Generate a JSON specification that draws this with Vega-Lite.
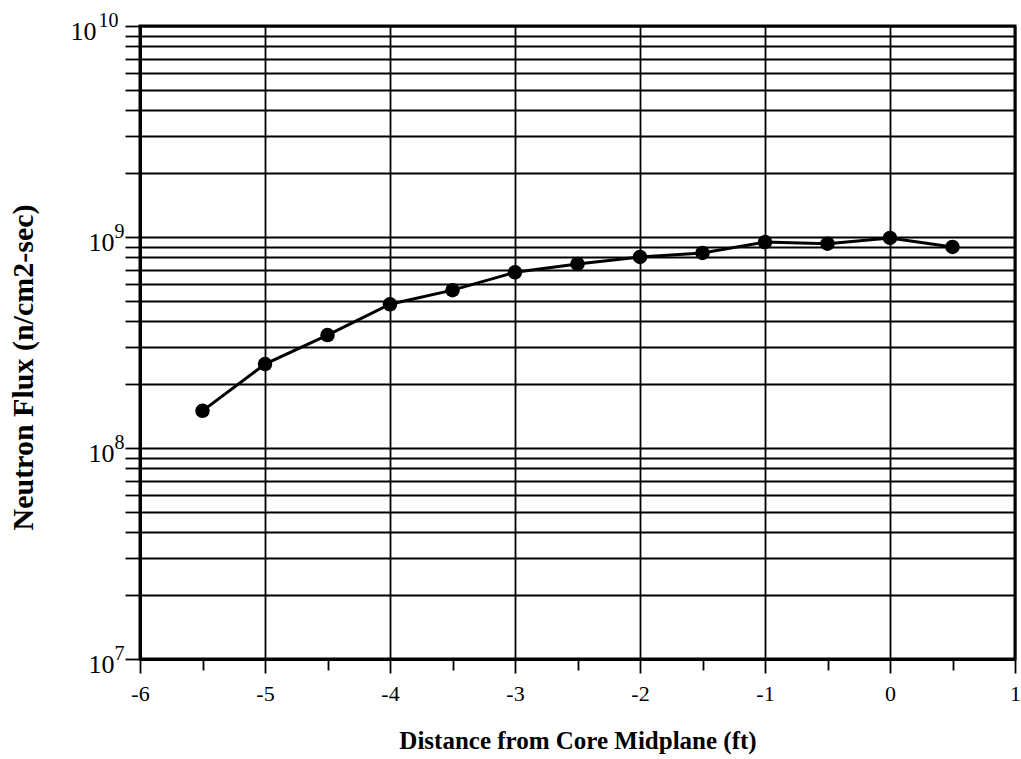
{
  "$schema": "https://vega.github.io/schema/vega-lite/v6.json",
  "autosize": "none",
  "width": 875,
  "height": 633,
  "padding": {"left": 140, "top": 26, "right": 6, "bottom": 100},
  "background": "white",
  "config": {
    "view": {"stroke": "black", "strokeWidth": 3},
    "font": "Liberation Serif"
  },
  "data": {
    "values": [
      {"x": -5.5, "flux": 1.5e8},
      {"x": -5.0, "flux": 2.5e8},
      {"x": -4.5, "flux": 3.43e8},
      {"x": -4.0, "flux": 4.8e8},
      {"x": -3.5, "flux": 5.6e8},
      {"x": -3.0, "flux": 6.8e8},
      {"x": -2.5, "flux": 7.45e8},
      {"x": -2.0, "flux": 8.04e8},
      {"x": -1.5, "flux": 8.4e8},
      {"x": -1.0, "flux": 9.46e8},
      {"x": -0.5, "flux": 9.3e8},
      {"x": 0.0, "flux": 9.9e8},
      {"x": 0.5, "flux": 8.97e8}
    ]
  },
  "encoding": {
    "x": {
      "field": "x",
      "type": "quantitative",
      "scale": {"domain": [-6, 1], "nice": false, "zero": false},
      "axis": {
        "title": "Distance from Core Midplane (ft)",
        "titleFont": "Liberation Serif",
        "titleFontSize": 25,
        "titleFontWeight": "bold",
        "titleColor": "black",
        "titlePadding": 24,
        "values": [-6, -5.5, -5, -4.5, -4, -3.5, -3, -2.5, -2, -1.5, -1, -0.5, 0, 0.5, 1],
        "labelExpr": "datum.value % 1 === 0 ? toString(datum.value) : ''",
        "labelFont": "Liberation Serif",
        "labelFontSize": 22,
        "labelColor": "black",
        "labelPadding": 10,
        "labelFlush": false,
        "labelOverlap": false,
        "domainColor": "black",
        "domainWidth": 3,
        "tickColor": "black",
        "tickWidth": 1.8,
        "tickSize": {"condition": {"test": "datum.value % 1 === 0", "value": 14}, "value": 11},
        "grid": true,
        "gridColor": "black",
        "gridWidth": 1.8,
        "gridOpacity": {"condition": {"test": "datum.value % 1 === 0", "value": 1}, "value": 0}
      }
    },
    "y": {
      "field": "flux",
      "type": "quantitative",
      "scale": {"type": "log", "domain": [10000000, 10000000000], "nice": false}
    }
  },
  "layer": [
    {
      "mark": {"type": "line", "color": "black", "strokeWidth": 3},
      "encoding": {
        "y": {
          "field": "flux",
          "type": "quantitative",
          "scale": {"type": "log", "domain": [10000000, 10000000000], "nice": false},
          "axis": {
            "title": "Neutron Flux (n/cm2-sec)",
            "titleFont": "Liberation Serif",
            "titleFontSize": 30,
            "titleFontWeight": "bold",
            "titleColor": "black",
            "titlePadding": 32,
            "titleY": 341,
            "values": [10000000, 20000000, 30000000, 40000000, 50000000, 60000000, 70000000, 80000000, 90000000,
                       100000000, 200000000, 300000000, 400000000, 500000000, 600000000, 700000000, 800000000, 900000000,
                       1000000000, 2000000000, 3000000000, 4000000000, 5000000000, 6000000000, 7000000000, 8000000000, 9000000000,
                       10000000000],
            "labelExpr": "(datum.value === 10000000 || datum.value === 100000000 || datum.value === 1000000000 || datum.value === 10000000000) ? '10' : ''",
            "labelFont": "Liberation Serif",
            "labelFontSize": 26,
            "labelColor": "black",
            "labelBaseline": "middle",
            "labelPadding": {"condition": {"test": "datum.value === 10000000000", "value": 29}, "value": 11},
            "labelOffset": 5,
            "labelFlush": false,
            "labelOverlap": false,
            "domainColor": "black",
            "domainWidth": 3,
            "tickColor": "black",
            "tickWidth": 1.8,
            "tickSize": 15,
            "grid": true,
            "gridColor": "black",
            "gridWidth": 1.8
          }
        }
      }
    },
    {
      "mark": {"type": "point", "filled": true, "color": "black", "opacity": 1, "size": 210},
      "encoding": {
        "y": {
          "field": "flux",
          "type": "quantitative",
          "scale": {"type": "log", "domain": [10000000, 10000000000], "nice": false},
          "axis": {
            "title": null,
            "orient": "left",
            "values": [10000000, 100000000, 1000000000, 10000000000],
            "labelExpr": "datum.value === 10000000 ? '7' : datum.value === 100000000 ? '8' : datum.value === 1000000000 ? '9' : '10'",
            "labelFont": "Liberation Serif",
            "labelFontSize": 20,
            "labelColor": "black",
            "labelBaseline": "middle",
            "labelPadding": {"condition": {"test": "datum.value === 10000000000", "value": 22}, "value": 16},
            "labelOffset": -6,
            "labelFlush": false,
            "labelOverlap": false,
            "domain": false,
            "ticks": false,
            "grid": false
          }
        }
      }
    }
  ],
  "resolve": {"axis": {"y": "independent"}}
}
